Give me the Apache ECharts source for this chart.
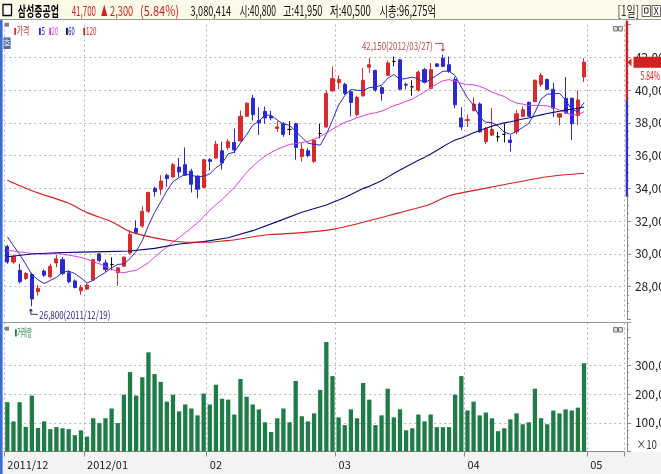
<!DOCTYPE html>
<html><head><meta charset="utf-8">
<script src="https://cdn.jsdelivr.net/npm/echarts@6/dist/echarts.min.js"></script>
<style>html,body{margin:0;padding:0;background:#fff;overflow:hidden}#main{width:661px;height:474px}</style>
</head><body><div id="main"></div>
<script>
// ---------------- DATA ----------------
const dates = [
 '2011/12/13','2011/12/14','2011/12/15','2011/12/16','2011/12/19','2011/12/20','2011/12/21','2011/12/22','2011/12/23','2011/12/26','2011/12/27','2011/12/28','2011/12/29',
 '2012/01/02','2012/01/03','2012/01/04','2012/01/05','2012/01/06','2012/01/09','2012/01/10','2012/01/11','2012/01/12','2012/01/13','2012/01/16','2012/01/17','2012/01/18','2012/01/19','2012/01/20','2012/01/25','2012/01/26','2012/01/27','2012/01/30','2012/01/31',
 '2012/02/01','2012/02/02','2012/02/03','2012/02/06','2012/02/07','2012/02/08','2012/02/09','2012/02/10','2012/02/13','2012/02/14','2012/02/15','2012/02/16','2012/02/17','2012/02/20','2012/02/21','2012/02/22','2012/02/23','2012/02/24','2012/02/27','2012/02/28','2012/02/29',
 '2012/03/02','2012/03/05','2012/03/06','2012/03/07','2012/03/08','2012/03/09','2012/03/12','2012/03/13','2012/03/14','2012/03/15','2012/03/16','2012/03/19','2012/03/20','2012/03/21','2012/03/22','2012/03/23','2012/03/26','2012/03/27','2012/03/28','2012/03/29','2012/03/30',
 '2012/04/02','2012/04/03','2012/04/04','2012/04/05','2012/04/06','2012/04/09','2012/04/10','2012/04/12','2012/04/13','2012/04/16','2012/04/17','2012/04/18','2012/04/19','2012/04/20','2012/04/23','2012/04/24','2012/04/25','2012/04/26','2012/04/27','2012/04/30',
 '2012/05/02','2012/05/03','2012/05/04','2012/05/07','2012/05/08','2012/05/09'];

const opens = [
 30450,29500,29000,28500,28750,27700,28950,28600,29450,29650,
 28850,28350,27750,27850,28400,30000,29450,29350,28850,29250,
 30050,31550,31700,32600,34000,33950,34800,34700,35300,35450,
 35050,34750,34050,35750,35850,36300,36500,36800,36900,38400,
 39500,38150,38700,38400,37650,37950,37600,37950,35950,36300,
 35650,37350,37750,39950,40450,40350,39900,38500,39650,41400,
 41200,40150,40900,41750,41850,40350,40200,40000,41250,40100,
 41600,41950,41550,40650,38300,38150,38750,39150,36850,37250,
 37150,37300,36950,37450,38400,39250,39300,40350,40650,40050,
 38350,39500,39500,38450,40800];
const closes = [
 29500,29850,28300,28800,27250,27900,28700,29250,29700,28800,
 28300,27950,27950,28100,29650,29600,29050,29350,29150,29800,
 31200,31300,32600,33750,33800,34450,34600,35450,35000,34800,
 34250,33950,35750,35650,36700,35550,36850,36350,38400,39200,
 38500,38000,38300,38300,37750,37300,37600,36500,36400,36000,
 36950,37350,39800,40700,40650,39800,39250,39550,40600,41550,
 40000,39800,41650,41750,40050,40300,40200,41100,40500,41250,
 41450,41450,41150,39100,37750,38200,39150,37450,37650,37600,
 37150,37300,36800,38550,38800,38400,40600,40900,40050,38900,
 38550,38600,37950,39400,41700];
const lows = [
 29400,29400,28200,28400,26800,27450,28600,28500,29200,28700,
 28200,27900,27500,27800,28350,29500,28900,29000,28050,29200,
 29950,31200,31600,32500,33500,33600,34100,34650,34700,34750,
 33750,33400,34000,35100,35800,35150,36350,36150,36850,38400,
 38150,37250,37950,38150,37450,37150,37250,35750,35650,35900,
 35550,37050,37700,39900,40050,39700,38400,38400,39600,41050,
 39900,39350,40850,41450,40000,40050,39650,39900,40450,40050,
 41400,41400,41050,38900,37550,37750,38700,37400,36700,37200,
 36850,36800,36250,37300,38350,38350,39250,40200,40000,38350,
 37850,38550,36950,37850,40500];
const highs = [
 30550,29950,29400,28900,28850,28100,29050,29400,29950,29800,
 29000,28450,28100,28200,29700,30050,29650,29800,29200,29850,
 31450,32050,32900,33800,34100,34800,34900,35550,35850,36500,
 35200,34800,35800,35850,36900,36850,37000,37650,38750,39250,
 39700,38950,39000,38750,38100,38050,38100,38000,36750,36450,
 37000,37950,40000,41450,40900,40450,40000,39650,41350,41950,
 41250,40250,41800,42050,41900,40450,40600,41200,41350,41650,
 41650,42150,42050,40800,38950,38500,39550,39250,37750,38900,
 37450,37950,37250,38800,39000,39300,40650,41050,40700,40450,
 38600,40800,39550,40000,41950];
// volume in units of 10 shares (axis shows "x10")
const volumes = [
 172000,105000,172000,86000,195000,82000,105000,78000,85000,81000,
 78000,57000,74000,52000,116000,99000,116000,150000,99000,198000,
 277000,195000,259000,346000,270000,243000,174000,198000,140000,164000,
 150000,126000,202000,164000,233000,184000,181000,129000,253000,191000,
 164000,147000,102000,68000,116000,150000,102000,246000,123000,105000,
 133000,215000,382000,263000,119000,92000,147000,116000,239000,181000,
 92000,126000,219000,119000,147000,74000,81000,129000,105000,129000,
 85000,85000,85000,198000,263000,143000,174000,126000,136000,116000,
 71000,81000,112000,133000,95000,102000,219000,116000,95000,143000,
 133000,147000,143000,153000,308041];

// moving-average values read from the picture where earlier history is not visible
const ma5Head  = [31050,30500,29970,29380];
const ma20Head = [30200,30180,30120,30080,30030,30010,29990,30000,30030,29990,29930,29860,29790,29680,29520,29400,29220,29080,28910];
const ma60HeadIdx = [0,4,8,12,16,20,24,28,32,36,40,44,48,52,55,58];
const ma60HeadVal = [29830,29990,30070,30110,30140,30180,30340,30600,30750,30990,31420,31970,32540,32980,33450,34000];
const ma120Idx = [0,4,10,13,17,20,24,27,30,33,35,37,42,48,53,58,64,67,69,72,77,83,88,94];
const ma120Val = [34500,33860,33090,32520,31970,31360,30980,30790,30710,30710,30790,30850,31150,31300,31500,31930,32520,32820,33050,33550,33940,34370,34710,34920];

const priceTicks = [26000,44000,2000];         // min, max, interval
const volTicks = [0,450000,100000];            // min, max, interval
const volLabelValues = [100000,200000,300000];
const stockName = '삼성중공업';
const tradedShares = 3080414;
const marketCap = '96,275억';
const upperLimit = 45300, lowerLimit = 33500;
const lowIdx = 4, highIdx = 71;

// ---------------- STYLE ----------------
const UP = '#d92b2b', DOWN = '#2a2ad2', GREEN = '#1e7d46', DOJI = '#111';
const C_MA5 = '#2727d8', C_MA20 = '#e03ce0', C_MA60 = '#0b0b78', C_MA120 = '#d61e1e';
const FN = "'Liberation Sans Narrow','Arial Narrow','Noto Sans CJK KR',sans-serif";
const GRIDC = '#b4b4b4', AXC = '#8a8a8a';

function sparse(idx, val) { const a = new Array(closes.length).fill(null); idx.forEach((j,k)=>a[j]=val[k]); return a; }
function movingAverage(n, head) {
  return closes.map((c, i) => {
    if (i < n - 1) return head[i] === undefined ? null : head[i];
    let s = 0; for (let k = i - n + 1; k <= i; k++) s += closes[k];
    return Math.round(s / n);
  });
}
const ma5 = movingAverage(5, ma5Head);
const ma20 = movingAverage(20, ma20Head);
const ma60 = movingAverage(60, sparse(ma60HeadIdx, ma60HeadVal));
const ma120 = sparse(ma120Idx, ma120Val);

const fmt = v => Number(v).toLocaleString('en-US');
const mon = i => dates[i].slice(5,7);
const isMonthStart = i => i === 0 || mon(i) !== mon(i-1);

const N = dates.length, STEP = 6.135, LEFT = 4.26;
const GW = N * STEP;

const chart = echarts.init(document.getElementById('main'), null, {renderer:'canvas'});
const splitStyle = {color: GRIDC, type: [2,3], width: 1};
const option = {
  animation: false,
  backgroundColor: '#ffffff',
  grid: [
    {left: LEFT, top: 24.57, width: GW, height: 294.86, containLabel: false, outerBoundsMode: 'none'},
    {left: LEFT, top: 322.5, width: GW, height: 129, containLabel: false, outerBoundsMode: 'none'}
  ],
  xAxis: [
    {type:'category', gridIndex:0, data: dates, boundaryGap: true,
     axisLine:{show:false}, axisTick:{show:false}, axisLabel:{show:false},
     splitLine:{show:true, interval:(i)=>isMonthStart(i), lineStyle: splitStyle}},
    {type:'category', gridIndex:1, data: dates, boundaryGap: true,
     axisLine:{show:true, lineStyle:{color: AXC, width:1}},
     axisTick:{show:true, interval:(i)=>isMonthStart(i), length:5, lineStyle:{color: AXC}},
     axisLabel:{show:true, interval:(i)=>isMonthStart(i), align:'left', margin:8,
       fontSize:11, fontFamily: FN, color:'#222',
       formatter:(v,i)=> (i===0 || mon(i)==='01') ? v.slice(0,7) : v.slice(5,7)},
     splitLine:{show:true, interval:(i)=>isMonthStart(i), lineStyle: splitStyle}}
  ],
  yAxis: [
    {type:'value', gridIndex:0, position:'right', offset:3,
     min: priceTicks[0], max: priceTicks[1], interval: priceTicks[2],
     axisLine:{show:true, lineStyle:{color: AXC}},
     axisTick:{show:true, length:4, lineStyle:{color: AXC}},
     minorTick:{show:true, splitNumber:4, length:2, lineStyle:{color: AXC}},
     axisLabel:{show:true, showMinLabel:false, showMaxLabel:false, margin:8, fontSize:12, fontFamily: FN, color:'#222', formatter: fmt},
     splitLine:{show:true, showMinLine:false, showMaxLine:false, lineStyle: splitStyle}},
    {type:'value', gridIndex:1, position:'right', offset:3,
     min: volTicks[0], max: volTicks[1], interval: volTicks[2],
     axisLine:{show:true, lineStyle:{color: AXC}},
     axisTick:{show:true, length:4, lineStyle:{color: AXC}},
     minorTick:{show:true, splitNumber:4, length:2, lineStyle:{color: AXC}},
     axisLabel:{show:true, margin:8, fontSize:12, fontFamily: FN, color:'#222',
       formatter: v => volLabelValues.includes(v) ? fmt(v) : ''},
     splitLine:{show:true, showMinLine:false, showMaxLine:false,
       lineStyle:{color:[GRIDC,GRIDC,GRIDC,'rgba(0,0,0,0)'], type:[2,3], width:1}}}
  ],
  series: [
    {type:'candlestick', name:'가격', xAxisIndex:0, yAxisIndex:0,
     data: opens.map((o,i)=>[o, closes[i], lows[i], highs[i]]),
     barWidth: 3.6,
     itemStyle:{color: UP, color0: DOWN, borderColor: UP, borderColor0: DOWN, borderColorDoji: DOJI, borderWidth: 1},
     z: 2},
    {type:'line', name:'5', xAxisIndex:0, yAxisIndex:0, data: ma5, symbol:'none', connectNulls:true, lineStyle:{color:C_MA5, width:1}, z:3, silent:true},
    {type:'line', name:'20', xAxisIndex:0, yAxisIndex:0, data: ma20, symbol:'none', connectNulls:true, lineStyle:{color:C_MA20, width:1}, z:3, silent:true},
    {type:'line', name:'60', xAxisIndex:0, yAxisIndex:0, data: ma60, symbol:'none', connectNulls:true, lineStyle:{color:C_MA60, width:1.1}, z:3, silent:true},
    {type:'line', name:'120', xAxisIndex:0, yAxisIndex:0, data: ma120, symbol:'none', connectNulls:true, smooth:0.3, lineStyle:{color:C_MA120, width:1.1}, z:3, silent:true},
    {type:'bar', name:'거래량', xAxisIndex:1, yAxisIndex:1, data: volumes, barWidth:'70%', itemStyle:{color: GREEN}, z:2}
  ]
};
chart.setOption(option);

// ---------------- decorations (positioned from data via the axes) ----------------
const mctx = document.createElement('canvas').getContext('2d');
function fitText(text, x, cy, w, size, color, weight) {
  weight = weight || 'normal';
  mctx.font = weight + ' ' + size + 'px ' + FN;
  const mw = mctx.measureText(text).width || 1;
  return {type:'text', x: x, y: cy, scaleX: w / mw, z: 60, silent: true,
    style:{text: text, fontSize: size, fontFamily: FN, fontWeight: weight, fill: color, align:'left', verticalAlign:'middle'}};
}
const rect = (x,y,w,h,fill,stroke,z,lw) => ({type:'rect', shape:{x,y,width:w,height:h}, style:{fill: fill||null, stroke: stroke||null, lineWidth: lw||1}, z: z===undefined?55:z, silent:true});
const line = (x1,y1,x2,y2,stroke,lw,z) => ({type:'line', shape:{x1,y1,x2,y2}, style:{stroke, lineWidth: lw||1}, z: z===undefined?55:z, silent:true});

const yP = v => chart.convertToPixel({yAxisIndex:0}, v);
const pt = (i, v) => chart.convertToPixel({gridIndex:0}, [i, v]);

const last = closes.length - 1;
const lastClose = closes[last], prevClose = closes[last-1];
const change = lastClose - prevClose;
const pct = (change / prevClose * 100).toFixed(2);
const RED = '#d42020';

const g = [];
// backgrounds and frame
g.push(rect(0, 0, 661, 19.5, '#fcfbea', null, -10));
g.push(rect(0, 452, 661, 22, '#f3f3f3', null, -10));
g.push(line(0, 19.5, 661, 19.5, '#9a9a9a', 1, 56));
g.push(line(2.5, 322.5, 627, 322.5, '#9a9a9a', 1, 56));
g.push(rect(0, 20, 2.6, 454, '#3a6cd6', null, 57));

// header
g.push(rect(3, 4.5, 8.5, 11, '#fff', '#000', 60, 1.3));
const hx = [
  [stockName, 17.7, 41.3, '#000', 'bold'],
  [fmt(lastClose), 71.7, 24.3, RED],
  ['▲', 101, 6.5, RED],
  [fmt(change), 110, 23.2, RED],
  ['(' + pct + '%)', 140, 39, RED],
  [fmt(tradedShares), 190.5, 40.5, '#111'],
  ['시:' + fmt(opens[last]), 239.5, 36.5, '#111'],
  ['고:' + fmt(highs[last]), 283, 39.5, '#111'],
  ['저:' + fmt(lows[last]), 329.7, 41.3, '#111'],
  ['시총:' + marketCap, 379.4, 56.6, '#111'],
  ['[1일]', 617.6, 21.4, '#333']
];
hx.forEach(h => g.push(fitText(h[0], h[1], 11, h[2], 14, h[3], h[4])));
g.push(rect(642, 5.5, 8.5, 11, '#fff', '#666', 60));
g.push(rect(644.5, 8, 3.5, 5, null, '#333', 61));
g.push(rect(652, 5.5, 8.5, 11, '#fff', '#666', 60));
g.push(fitText('X', 653.8, 11, 5, 10, '#222'));

// price pane legend
g.push(rect(4.7, 22.7, 4.3, 4, '#808080', null, 60));
const leg = [['가격', UP, 14.3, 16.7, 12.6], ['5', C_MA5, 39, 41.4, 3.4], ['20', C_MA20, 49.3, 51.7, 6.4], ['60', C_MA60, 66, 68.3, 6.4], ['120', C_MA120, 83.3, 86, 10.4]];
leg.forEach(l => { g.push(rect(l[2], 27.8, 1.8, 7.2, l[1], null, 60)); g.push(fitText(l[0], l[3], 31.3, l[4], 11, l[1])); });
g.push(rect(3.4, 37.4, 7.2, 11.6, '#56709c', null, 60));
g.push({type:'text', x: 7, y: 43.4, z: 61, silent:true, style:{text:'호', fontSize:8, fontFamily:"'Noto Sans CJK KR',sans-serif", fill:'#fff', align:'center', verticalAlign:'middle'}});
// volume pane legend
g.push(rect(4.7, 326.7, 4.3, 4, '#808080', null, 60));
g.push(rect(15, 329.2, 1.8, 7.4, GREEN, null, 60));
g.push(fitText('거래량', 17.3, 333, 14.4, 11, GREEN));
// pane icons
[26.5, 327.5].forEach(y => { g.push(rect(613.5, y, 4, 4.5, '#dcdcdc', '#7a7a7a', 60)); g.push(rect(618.5, y, 4, 4.5, '#dcdcdc', '#7a7a7a', 60)); });

// price limit bar on the price axis
const paneTop = 20.5;
const yUp = Math.max(yP(upperLimit), paneTop), yPrev = yP(prevClose), yLow = yP(lowerLimit);
g.push(rect(625.7, yUp, 2.4, yPrev - yUp, RED, null, 62));
g.push(rect(625.7, yPrev, 2.4, yLow - yPrev, '#3030d0', null, 62));

// current price marker
const yc = yP(lastClose);
g.push({type:'polygon', shape:{points:[[627.5, yc],[631.5, yc-4],[631.5, yc+4]]}, style:{fill: RED}, z: 63, silent:true});
g.push(rect(633.5, yc-5.5, 28, 11, RED, null, 63));
g.push(fitText(fmt(lastClose), 635.5, yc, 24.5, 12, '#fff'));
g.push(fitText(pct + '%', 640.5, yc + 13.5, 19.5, 12, RED));

// volume unit
g.push(fitText('×10', 636.5, 444, 20.5, 12, '#333'));

// high / low annotations
const hp = pt(highIdx, highs[highIdx]);
const hiCol = '#c44848';
g.push(fitText(fmt(highs[highIdx]) + '(' + dates[highIdx] + ')', hp[0] - 81, hp[1] - 9.5, 70.7, 11, hiCol));
g.push({type:'polyline', shape:{points:[[hp[0]-8, hp[1]-11.5],[hp[0], hp[1]-11.5],[hp[0], hp[1]-5]]}, style:{stroke: hiCol, lineWidth:1, fill:null}, z:60, silent:true});
g.push({type:'polygon', shape:{points:[[hp[0]-2, hp[1]-6],[hp[0]+2, hp[1]-6],[hp[0], hp[1]-3]]}, style:{fill: hiCol}, z:60, silent:true});

const lp = pt(lowIdx, lows[lowIdx]);
const loCol = '#2a2a90';
g.push({type:'polyline', shape:{points:[[lp[0]-1, lp[1]+3],[lp[0]-1, lp[1]+8],[lp[0]+6, lp[1]+8]]}, style:{stroke: loCol, lineWidth:1, fill:null}, z:60, silent:true});
g.push({type:'polygon', shape:{points:[[lp[0]-3, lp[1]+5],[lp[0]+1, lp[1]+5],[lp[0]-1, lp[1]+2]]}, style:{fill: loCol}, z:60, silent:true});
g.push(fitText(fmt(lows[lowIdx]) + '(' + dates[lowIdx] + ')', lp[0] + 7.5, lp[1] + 8.5, 71, 11, loCol));

chart.setOption({graphic: {elements: g}});
</script>
</body></html>
